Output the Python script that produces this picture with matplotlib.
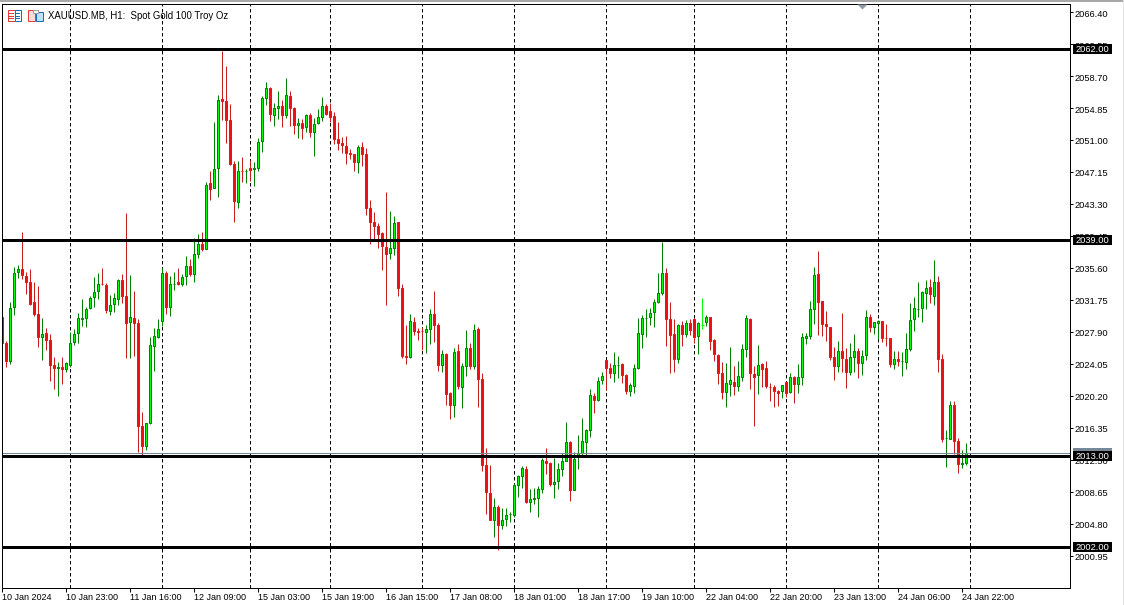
import matplotlib
matplotlib.use("Agg")
import matplotlib.pyplot as plt
from matplotlib.patches import Rectangle, Polygon
from matplotlib.transforms import IdentityTransform, ScaledTranslation, blended_transform_factory
from matplotlib.ticker import FixedLocator

high = [
2029.83,2026.82,2031.52,2035.77,2035.97,2039.95,2035.13,2035.45,2033.93,2033.44,
2029.59,2028.38,2027.66,2024.93,2024.33,2024.89,2024.29,2027.90,2028.26,2030.19,
2031.88,2030.91,2032.24,2034.53,2035.01,2035.61,2033.80,2032.36,2032.60,2034.29,
2034.89,2042.24,2034.77,2032.84,2029.47,2018.26,2016.94,2027.30,2028.38,2029.47,
2035.61,2035.25,2034.65,2035.13,2035.61,2034.89,2037.06,2036.70,2039.22,2039.71,
2039.95,2045.97,2047.30,2053.20,2056.45,2061.75,2059.95,2055.37,2048.50,2048.50,
2048.98,2047.54,2048.62,2048.38,2051.27,2056.33,2058.02,2057.42,2055.49,2056.94,
2055.85,2058.50,2056.94,2055.01,2053.68,2053.56,2054.16,2054.28,2053.68,2054.77,
2056.21,2055.37,2055.49,2054.41,2053.20,2051.40,2051.52,2049.95,2049.35,2050.43,
2050.79,2050.07,2043.81,2042.36,2041.04,2039.95,2044.77,2042.48,2041.88,2041.16,
2033.69,2028.75,2030.07,2029.71,2028.38,2028.51,2028.75,2030.67,2032.84,2028.99,
2025.73,2025.37,2020.67,2025.98,2026.46,2024.17,2028.14,2026.58,2028.87,2028.51,
2022.96,2013.92,2011.87,2007.90,2007.06,2006.69,2006.69,2006.21,2009.71,2010.67,
2011.75,2011.75,2008.98,2009.10,2009.34,2012.72,2013.92,2012.24,2012.72,2012.12,
2013.32,2017.06,2014.77,2013.44,2015.49,2017.54,2016.21,2021.03,2020.55,2022.48,
2023.08,2024.53,2024.17,2025.49,2025.01,2024.17,2022.84,2021.76,2024.05,2029.59,
2029.95,2030.67,2030.79,2031.88,2035.01,2038.74,2035.61,2031.52,2029.47,2028.86,
2029.23,2029.35,2029.47,2029.59,2029.11,2032.00,2029.95,2029.71,2027.06,2025.25,
2024.29,2024.17,2026.09,2023.80,2024.41,2026.46,2029.95,2029.59,2023.80,2026.33,
2024.17,2024.41,2021.76,2021.52,2020.91,2021.52,2021.88,2022.97,2022.60,2024.05,
2027.79,2027.79,2031.64,2035.74,2037.66,2031.64,2030.44,2028.51,2026.10,2026.82,
2030.20,2025.98,2026.58,2027.66,2025.98,2025.74,2030.56,2030.07,2029.11,2029.35,
2029.23,2028.87,2027.18,2025.62,2025.62,2025.50,2027.79,2031.40,2032.12,2033.93,
2032.85,2034.17,2034.29,2036.58,2034.65,2025.26,2016.10,2019.59,2019.59,2015.13,
2013.69,2014.53]

body_top = [
2029.83,2026.58,2030.91,2035.13,2035.57,2035.61,2034.65,2033.93,2031.52,2030.19,
2027.78,2027.90,2026.94,2023.93,2023.80,2023.80,2024.17,2026.58,2027.78,2029.59,
2029.59,2030.79,2032.00,2032.84,2033.80,2033.80,2033.68,2031.27,2032.00,2034.17,
2034.17,2032.36,2029.71,2029.59,2028.99,2016.58,2016.94,2026.34,2027.54,2028.38,
2035.13,2035.13,2033.80,2033.80,2033.93,2034.61,2035.93,2035.97,2037.30,2038.62,
2038.62,2045.73,2045.97,2047.66,2055.97,2056.09,2055.85,2053.56,2048.26,2047.42,
2047.30,2047.30,2047.78,2047.78,2050.91,2056.21,2057.30,2057.30,2055.01,2055.25,
2055.25,2056.57,2056.45,2055.01,2053.20,2053.20,2054.16,2054.16,2053.08,2053.92,
2055.25,2055.25,2054.53,2054.04,2051.27,2050.79,2050.43,2049.47,2049.35,2050.31,
2050.31,2049.35,2042.96,2041.16,2040.79,2039.83,2038.26,2038.14,2041.04,2041.16,
2033.32,2025.13,2029.23,2029.11,2028.14,2028.02,2028.38,2030.19,2030.19,2028.75,
2025.37,2025.37,2020.67,2025.61,2025.73,2023.81,2025.98,2025.98,2028.26,2028.38,
2022.24,2011.99,2008.62,2006.93,2006.93,2005.37,2005.97,2005.97,2009.47,2010.67,
2011.63,2011.51,2007.90,2008.02,2009.10,2012.60,2012.48,2012.12,2009.95,2011.51,
2012.48,2014.77,2014.77,2012.72,2013.44,2014.89,2016.21,2020.43,2020.31,2022.00,
2022.72,2024.53,2023.68,2023.93,2023.93,2024.05,2022.84,2021.52,2023.68,2027.90,
2029.59,2029.59,2030.31,2031.52,2032.72,2035.13,2035.13,2029.47,2027.78,2028.86,
2028.86,2028.99,2028.99,2029.47,2028.99,2028.74,2029.71,2029.71,2026.94,2025.25,
2023.08,2021.76,2022.12,2021.88,2022.72,2025.97,2029.59,2029.47,2022.96,2023.93,
2024.05,2023.68,2021.39,2021.28,2020.91,2021.52,2021.88,2022.60,2022.60,2022.60,
2027.42,2027.54,2030.68,2034.89,2035.01,2031.64,2028.87,2028.51,2025.01,2025.62,
2025.62,2024.77,2025.01,2025.62,2025.62,2025.13,2029.71,2029.71,2029.11,2029.23,
2029.23,2027.18,2027.18,2024.65,2024.77,2024.41,2025.86,2029.35,2030.80,2030.68,
2032.73,2033.21,2033.33,2033.93,2033.93,2024.65,2015.13,2019.11,2019.11,2014.89,
2012.24,2013.33]

body_bot = [
2026.54,2024.33,2024.33,2030.87,2035.05,2034.69,2033.85,2031.27,2030.07,2027.22,
2027.22,2026.86,2023.85,2023.48,2023.48,2023.36,2023.36,2023.85,2026.58,2027.70,
2029.39,2029.51,2030.71,2032.00,2032.76,2033.68,2030.55,2030.43,2031.27,2031.80,
2032.24,2028.87,2028.99,2028.87,2016.46,2014.05,2014.05,2016.82,2026.21,2027.30,
2029.11,2030.91,2030.91,2033.68,2033.68,2033.68,2034.53,2034.89,2034.89,2037.30,
2037.90,2037.90,2045.13,2045.25,2047.66,2055.73,2053.44,2048.14,2043.68,2043.56,
2047.18,2047.18,2047.42,2047.54,2047.66,2050.91,2056.09,2054.16,2054.04,2054.89,
2054.04,2054.04,2054.77,2052.84,2052.84,2052.48,2052.60,2051.96,2051.88,2053.08,
2053.80,2054.16,2053.80,2051.15,2050.67,2050.43,2049.35,2049.23,2048.38,2048.38,
2049.23,2042.84,2041.04,2040.67,2039.59,2038.26,2037.30,2037.42,2038.02,2033.20,
2025.01,2024.89,2024.89,2028.02,2027.90,2027.94,2027.90,2028.26,2028.63,2023.81,
2023.81,2020.43,2018.99,2018.99,2021.28,2021.16,2023.69,2023.69,2023.69,2022.24,
2011.87,2008.62,2005.25,2005.25,2004.53,2004.65,2005.37,2005.89,2005.85,2009.35,
2010.55,2007.42,2007.42,2007.78,2007.90,2008.98,2012.12,2009.47,2009.47,2009.95,
2011.39,2012.36,2008.86,2008.86,2012.96,2013.32,2014.65,2016.09,2019.59,2019.59,
2022.04,2023.56,2022.96,2022.96,2023.85,2022.72,2020.79,2020.79,2021.39,2023.56,
2027.66,2029.51,2029.59,2030.31,2031.40,2032.60,2029.35,2027.54,2024.65,2024.65,
2027.66,2027.66,2028.14,2027.30,2027.42,2028.74,2028.99,2026.70,2025.25,2022.96,
2020.67,2020.67,2021.52,2021.39,2021.39,2022.48,2025.85,2022.96,2022.48,2022.72,
2023.44,2021.28,2021.16,2020.79,2020.55,2020.68,2020.44,2020.56,2021.52,2021.52,
2022.48,2027.18,2027.42,2030.56,2031.40,2028.75,2028.51,2024.89,2023.69,2023.69,
2024.77,2022.97,2022.97,2024.89,2024.05,2024.05,2025.13,2028.39,2028.39,2028.87,
2027.18,2027.06,2023.93,2023.93,2024.29,2024.29,2024.17,2025.74,2029.35,2030.60,
2030.68,2032.60,2032.48,2032.24,2024.53,2015.01,2015.05,2015.01,2014.77,2011.88,
2011.88,2012.00]

low = [
2026.46,2023.72,2024.09,2029.99,2034.45,2034.33,2032.48,2031.15,2029.83,2026.09,
2024.53,2025.73,2022.00,2021.03,2020.19,2021.64,2023.08,2023.72,2026.34,2026.58,
2028.62,2028.50,2030.71,2030.91,2031.88,2033.56,2030.19,2029.95,2030.31,2031.15,
2031.40,2024.77,2024.77,2025.01,2013.44,2013.08,2013.68,2016.82,2023.20,2027.18,
2028.62,2030.07,2029.83,2032.96,2033.56,2033.44,2033.56,2034.65,2033.92,2036.82,
2037.66,2037.90,2043.80,2045.25,2044.16,2053.44,2050.67,2048.02,2041.15,2042.84,
2045.97,2045.85,2046.09,2045.49,2047.30,2049.59,2055.25,2053.32,2052.72,2053.56,
2052.60,2053.68,2052.72,2051.75,2051.27,2051.15,2051.96,2051.39,2049.10,2052.96,
2053.32,2054.04,2053.20,2050.55,2049.83,2049.47,2048.14,2048.75,2047.30,2047.06,
2047.90,2042.00,2038.51,2038.99,2038.02,2035.37,2031.16,2036.70,2037.18,2032.24,
2024.77,2024.05,2024.77,2027.54,2026.94,2025.73,2025.37,2026.46,2026.70,2023.20,
2023.08,2019.11,2017.42,2017.66,2021.04,2018.75,2022.60,2023.44,2023.44,2018.87,
2011.15,2005.97,2005.25,2003.20,2001.63,2004.16,2004.53,2005.01,2005.61,2008.02,
2009.10,2007.30,2006.21,2007.18,2005.61,2008.50,2010.79,2009.35,2007.90,2008.98,
2010.55,2012.36,2007.54,2008.86,2011.39,2012.96,2013.08,2015.25,2018.14,2019.59,
2021.64,2020.91,2022.36,2021.88,2022.36,2021.76,2020.43,2020.19,2020.55,2023.44,
2025.97,2027.30,2028.74,2028.50,2031.40,2032.36,2026.21,2022.96,2023.08,2024.17,
2026.21,2027.30,2027.54,2026.58,2025.25,2028.26,2028.62,2025.73,2024.41,2021.64,
2019.83,2018.87,2020.19,2020.31,2020.79,2022.00,2024.89,2021.03,2016.58,2020.43,
2021.28,2021.16,2019.59,2018.87,2018.99,2019.95,2020.07,2020.56,2019.35,2020.56,
2021.52,2026.46,2027.06,2028.87,2027.54,2027.42,2026.82,2024.53,2022.12,2023.09,
2023.09,2021.16,2022.72,2023.09,2022.36,2022.72,2024.53,2027.91,2027.66,2027.06,
2026.70,2026.22,2023.69,2023.45,2023.81,2022.60,2023.45,2025.62,2028.03,2029.71,
2029.11,2030.68,2031.40,2031.16,2023.09,2014.65,2011.64,2015.01,2013.21,2010.92,
2011.52,2011.88]

falling_bars = [0,1,5,6,7,8,9,11,12,13,15,25,26,30,31,33,34,35,41,44,47,50,52,55,56,57,58,60,62,
67,70,72,73,75,77,81,82,83,84,85,86,87,88,90,91,92,93,94,95,96,99,100,101,103,104,105,108,109,
111,112,114,117,119,120,121,122,124,131,136,137,142,148,151,152,155,156,166,167,168,170,172,173,
177,178,179,180,183,187,188,190,191,192,193,194,196,198,204,205,206,207,208,210,211,214,217,220,
221,222,224,232,234,235,238,239]
flat_bars = [175]

level_prices = [2062.00, 2039.00, 2013.00, 2002.00]
last_price = 2013.27
price_ticks = [2066.40,2062.55,2058.70,2054.85,2051.00,2047.15,2043.30,2039.45,2035.60,
               2031.75,2027.90,2024.05,2020.20,2016.35,2012.50,2008.65,2004.80,2000.95]
time_tick_bars = [0,16,32,48,64,80,96,112,128,144,160,176,192,208,224,240]
time_labels = ["10 Jan 2024","10 Jan 23:00","11 Jan 16:00","12 Jan 09:00","15 Jan 03:00",
               "15 Jan 19:00","16 Jan 15:00","17 Jan 08:00","18 Jan 01:00","18 Jan 17:00",
               "19 Jan 10:00","22 Jan 04:00","22 Jan 20:00","23 Jan 13:00","24 Jan 06:00",
               "24 Jan 22:00"]
period_sep_bars = [17,40,62,82,105,128,151,173,196,219,242]
title = "XAUUSD.MB, H1:  Spot Gold 100 Troy Oz"

W, H = 1124, 605
plt.rcParams["font.family"] = ["Liberation Sans", "DejaVu Sans"]
FS = 6.7
PX = 0.72
STROKE_HALF = 0.06  # half a body outline, in price units

fig = plt.figure(figsize=(W / 100, H / 100), dpi=100, facecolor="white")
ax = fig.add_axes([2.0 / W, 1 - 588.0 / H, 1068 / W, 584 / H])
ax.set_xlim(0, 267)
ax.set_ylim(1997.06, 2067.42)

for b in period_sep_bars:
    ax.axvline(b, color="black", lw=PX, ls=(0, (3.5, 2.5)), zorder=1)

UP_EDGE, UP_FILL = "#007f00", "#00ff00"
DN_WICK, DN_FILL = "#c81e1e", "#ee1111"
n = len(high)
for i in range(n):
    if i in flat_bars:
        ax.plot([i, i], [low[i], high[i]], color=UP_FILL, lw=PX, zorder=3, solid_capstyle="butt")
        ax.plot([i - 0.375, i + 0.375], [body_top[i], body_top[i]], color=UP_FILL, lw=PX, zorder=3, solid_capstyle="butt")
        continue
    falling = i in falling_bars
    wick = DN_WICK if falling else UP_EDGE
    ax.plot([i, i], [low[i], high[i]], color=wick, lw=PX, zorder=3, solid_capstyle="butt")
    height = max(body_top[i] - body_bot[i] - 2 * STROKE_HALF, 0)
    ax.bar(i, height, 0.5, bottom=body_bot[i] + STROKE_HALF,
           facecolor=DN_FILL if falling else UP_FILL,
           edgecolor=DN_FILL if falling else UP_EDGE, lw=PX, zorder=4)

ax.axhline(last_price, color="#778899", lw=PX, zorder=5)
for p in level_prices:
    ax.axhline(p, color="black", lw=2.16, zorder=6)

for s in ("left", "right", "top", "bottom"):
    ax.spines[s].set_linewidth(PX)
    ax.spines[s].set_color("black")
    ax.spines[s].set_zorder(7)

ax.yaxis.tick_right()
ax.yaxis.set_major_locator(FixedLocator(price_ticks))
ax.set_yticklabels([f"{t:.2f}" for t in price_ticks])
ax.tick_params(axis="y", length=2.2, width=PX, pad=1.3, labelsize=FS, colors="black")
ax.xaxis.set_major_locator(FixedLocator(time_tick_bars))
ax.set_xticklabels(time_labels, ha="left")
ax.tick_params(axis="x", length=3, width=PX, pad=0.8, labelsize=6.5, colors="black")
down_1px = ScaledTranslation(0, -0.7 / 100, fig.dpi_scale_trans)
for label in ax.get_yticklabels():
    label.set_transform(label.get_transform() + down_1px)

tr = blended_transform_factory(ax.transAxes, ax.transData)
def tag(price, color, text, z):
    ax.add_patch(Rectangle((1 + 3.0 / 1068, price - 0.6), 39.0 / 1068, 1.2, transform=tr,
                           facecolor=color, edgecolor="none", clip_on=False, zorder=z))
    ax.text(1 + 22.5 / 1068, price, text, transform=tr + down_1px, ha="center", va="center",
            color="white", fontsize=FS, clip_on=False, zorder=z + 0.1)
tag(last_price, "#778899", f"{last_price:.2f}", 10)
for p in level_prices:
    tag(p, "black", f"{p:.2f}", 11)

ax.text(48.5 / W, 1 - 16.0 / H, title, transform=fig.transFigure, fontsize=6.9, color="black",
        ha="left", va="center", zorder=10)

# window chrome drawn in image pixels
def rect(x0, y0, x1, y1, fc="none", ec="none", lw=0.0):
    fig.add_artist(Rectangle((x0, H - y1), x1 - x0, y1 - y0, transform=IdentityTransform(),
                             facecolor=fc, edgecolor=ec, lw=lw))
rect(0, 0, W, 1.5, fc="#a8a8a8")
rect(W - 1, 0, W, H, fc="#e4e4e4")
fig.add_artist(Polygon([(857.5, H - 4.5), (867.5, H - 4.5), (862.5, H - 9.5)],
                       transform=IdentityTransform(), facecolor="#8f9aa6", edgecolor="none"))
# list icon
rect(7.5, 10, 14.5, 20.5, fc="white", ec="#e0403a", lw=PX)
rect(14.5, 10, 21, 20.5, fc="white", ec="#1a6fb0", lw=PX)
for yy in (13, 15.5, 18):
    rect(9, yy, 13.5, yy + 1, fc="#e0403a")
    rect(15.5, yy, 19.5, yy + 1, fc="#1a6fb0")
# template icon
rect(28, 10, 35, 20.5, fc="#fbdcd6", ec="#e0403a", lw=PX)
rect(36, 11.5, 42.5, 20.5, fc="#bfe0f5", ec="#1a6fb0", lw=PX)
rect(32.5, 9.5, 37.5, 12.5, fc="white", ec="#a0a0a0", lw=PX)

fig.savefig("out.png", dpi=100, facecolor="white")
